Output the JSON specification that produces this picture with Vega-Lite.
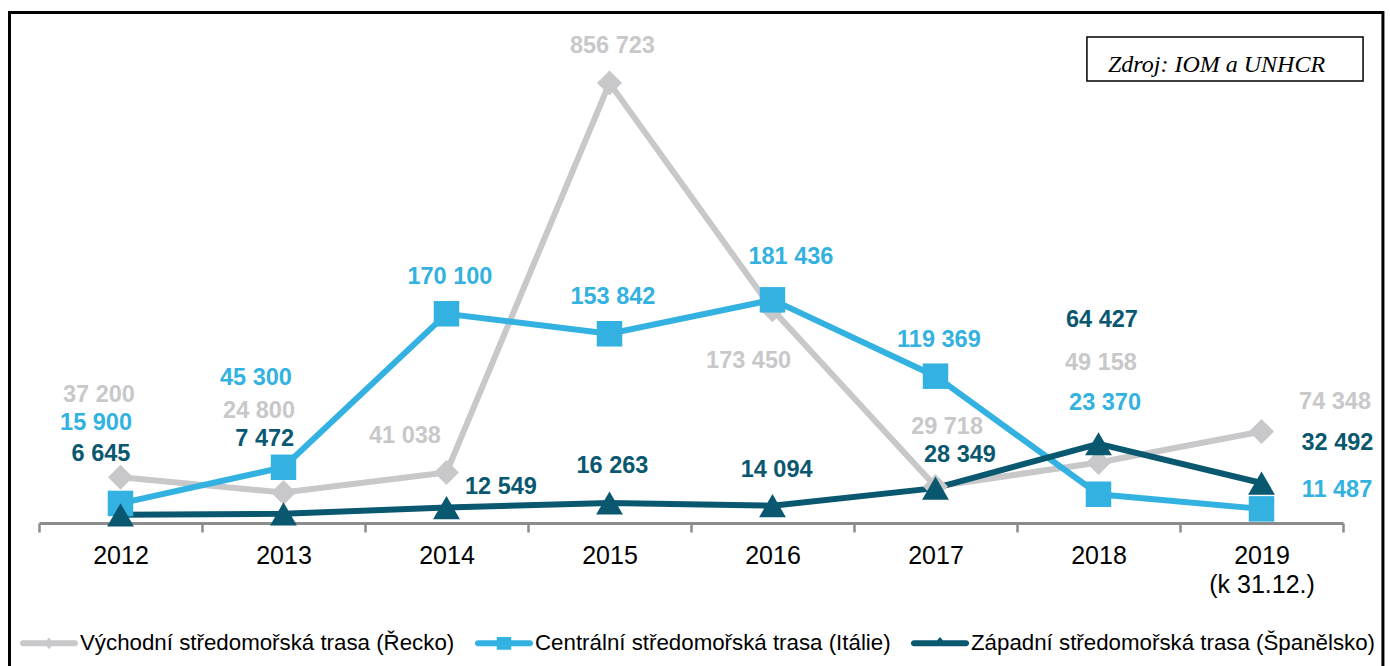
{
  "$schema": "https://vega.github.io/schema/vega-lite/v6.json",
  "width": 1304,
  "height": 492,
  "autosize": {"type": "none"},
  "padding": {"left": 39, "top": 31, "right": 47, "bottom": 143},
  "background": "white",
  "config": {"view": {"stroke": null}, "font": "Liberation Sans"},
  "data": {"values": [
    {"year": 2012, "series": "Východní středomořská trasa (Řecko)", "value": 37200, "label": "37 200", "labelX": 2011.868, "labelY": 104070},
    {"year": 2013, "series": "Východní středomořská trasa (Řecko)", "value": 24800, "label": "24 800", "labelX": 2012.850, "labelY": 91060},
    {"year": 2014, "series": "Východní středomořská trasa (Řecko)", "value": 41038, "label": "41 038", "labelX": 2013.745, "labelY": 70730},
    {"year": 2015, "series": "Východní středomořská trasa (Řecko)", "value": 357700, "label": "856 723", "labelX": 2015.018, "labelY": 387400},
    {"year": 2016, "series": "Východní středomořská trasa (Řecko)", "value": 173450, "label": "173 450", "labelX": 2015.853, "labelY": 131700},
    {"year": 2017, "series": "Východní středomořská trasa (Řecko)", "value": 29718, "label": "29 718", "labelX": 2017.071, "labelY": 78050},
    {"year": 2018, "series": "Východní středomořská trasa (Řecko)", "value": 49158, "label": "49 158", "labelX": 2018.015, "labelY": 130080},
    {"year": 2019, "series": "Východní středomořská trasa (Řecko)", "value": 74348, "label": "74 348", "labelX": 2019.451, "labelY": 98370},
    {"year": 2012, "series": "Centrální středomořská trasa (Itálie)", "value": 15900, "label": "15 900", "labelX": 2011.850, "labelY": 81300},
    {"year": 2013, "series": "Centrální středomořská trasa (Itálie)", "value": 45300, "label": "45 300", "labelX": 2012.831, "labelY": 117890},
    {"year": 2014, "series": "Centrální středomořská trasa (Itálie)", "value": 170100, "label": "170 100", "labelX": 2014.021, "labelY": 200000},
    {"year": 2015, "series": "Centrální středomořská trasa (Itálie)", "value": 153842, "label": "153 842", "labelX": 2015.021, "labelY": 183740},
    {"year": 2016, "series": "Centrální středomořská trasa (Itálie)", "value": 181436, "label": "181 436", "labelX": 2016.113, "labelY": 216260},
    {"year": 2017, "series": "Centrální středomořská trasa (Itálie)", "value": 119369, "label": "119 369", "labelX": 2017.021, "labelY": 148780},
    {"year": 2018, "series": "Centrální středomořská trasa (Itálie)", "value": 23370, "label": "23 370", "labelX": 2018.040, "labelY": 97560},
    {"year": 2019, "series": "Centrální středomořská trasa (Itálie)", "value": 11487, "label": "11 487", "labelX": 2019.463, "labelY": 26830},
    {"year": 2012, "series": "Západní středomořská trasa (Španělsko)", "value": 6645, "label": "6 645", "labelX": 2011.880, "labelY": 56100},
    {"year": 2013, "series": "Západní středomořská trasa (Španělsko)", "value": 7472, "label": "7 472", "labelX": 2012.885, "labelY": 68290},
    {"year": 2014, "series": "Západní středomořská trasa (Španělsko)", "value": 12549, "label": "12 549", "labelX": 2014.334, "labelY": 29270},
    {"year": 2015, "series": "Západní středomořská trasa (Španělsko)", "value": 16263, "label": "16 263", "labelX": 2015.018, "labelY": 46340},
    {"year": 2016, "series": "Západní středomořská trasa (Španělsko)", "value": 14094, "label": "14 094", "labelX": 2016.025, "labelY": 43090},
    {"year": 2017, "series": "Západní středomořská trasa (Španělsko)", "value": 28349, "label": "28 349", "labelX": 2017.150, "labelY": 55280},
    {"year": 2018, "series": "Západní středomořská trasa (Španělsko)", "value": 64427, "label": "64 427", "labelX": 2018.021, "labelY": 165040},
    {"year": 2019, "series": "Západní středomořská trasa (Španělsko)", "value": 32492, "label": "32 492", "labelX": 2019.466, "labelY": 65040}
  ]},
  "resolve": {"axis": {"x": "independent"}, "legend": {"color": "independent", "shape": "independent"}},
  "layer": [
    {
      "mark": {"type": "rect", "fillOpacity": 0, "stroke": "#000000", "strokeWidth": 3},
      "data": {"values": [{}]},
      "encoding": {
        "x": {"datum": 2011.319, "type": "quantitative", "scale": {"domain": [2011.5, 2019.5], "nice": false, "zero": false}, "axis": null},
        "x2": {"datum": 2019.745},
        "y": {"datum": 415036, "type": "quantitative", "scale": {"domain": [0, 400000], "nice": false}, "axis": null},
        "y2": {"datum": -117890}
      }
    },
    {
      "mark": {"type": "rect", "fillOpacity": 0, "stroke": "#000000", "strokeWidth": 1.5},
      "data": {"values": [{}]},
      "encoding": {
        "x": {"datum": 2017.929, "type": "quantitative", "scale": {"domain": [2011.5, 2019.5], "nice": false, "zero": false}, "axis": null},
        "x2": {"datum": 2019.623},
        "y": {"datum": 395120, "type": "quantitative", "scale": {"domain": [0, 400000], "nice": false}, "axis": null},
        "y2": {"datum": 359350}
      }
    },
    {
      "mark": {"type": "text", "font": "Liberation Serif", "fontStyle": "italic", "fontSize": 24, "align": "left", "baseline": "alphabetic", "color": "#000000"},
      "data": {"values": [{"source": "Zdroj: IOM a UNHCR"}]},
      "encoding": {
        "x": {"datum": 2018.058, "type": "quantitative", "scale": {"domain": [2011.5, 2019.5], "nice": false, "zero": false}, "axis": null},
        "y": {"datum": 366660, "type": "quantitative", "scale": {"domain": [0, 400000], "nice": false}, "axis": null},
        "text": {"field": "source"}
      }
    },
    {
      "mark": {"type": "line", "strokeWidth": 6},
      "encoding": {
        "x": {"field": "year", "type": "quantitative", "scale": {"domain": [2011.5, 2019.5], "nice": false, "zero": false},
              "axis": {"orient": "bottom", "values": [2011.5, 2012.5, 2013.5, 2014.5, 2015.5, 2016.5, 2017.5, 2018.5, 2019.5], "labels": false, "grid": false, "title": null,
                       "domainColor": "#8c8c8c", "domainWidth": 3, "tickColor": "#8c8c8c", "tickWidth": 2.5, "tickSize": 9}},
        "y": {"field": "value", "type": "quantitative", "scale": {"domain": [0, 400000], "nice": false}, "axis": null},
        "color": {"field": "series", "type": "nominal", "legend": null,
                  "scale": {"domain": ["Východní středomořská trasa (Řecko)", "Centrální středomořská trasa (Itálie)", "Západní středomořská trasa (Španělsko)"], "range": ["#c8c8ca", "#33b2e1", "#0a5870"]}}
      }
    },
    {
      "transform": [{"filter": "datum.series === 'Východní středomořská trasa (Řecko)'"}],
      "mark": {"type": "point", "shape": "diamond", "filled": true, "size": 625, "opacity": 1},
      "encoding": {
        "x": {"field": "year", "type": "quantitative", "scale": {"domain": [2011.5, 2019.5], "nice": false, "zero": false},
              "axis": {"orient": "bottom", "values": [2012, 2013, 2014, 2015, 2016, 2017, 2018, 2019], "format": "d", "ticks": false, "tickSize": 0, "domain": false, "grid": false, "title": null,
                       "labelFontSize": 25, "labelColor": "#000000", "labelFont": "Liberation Sans", "labelPadding": 20, "labelBaseline": "top", "labelLineHeight": 29,
                       "labelExpr": "datum.value == 2019 ? ['2019', '(k 31.12.)'] : datum.label"}},
        "y": {"field": "value", "type": "quantitative", "scale": {"domain": [0, 400000], "nice": false}, "axis": null},
        "color": {"field": "series", "type": "nominal", "legend": null,
                  "scale": {"domain": ["Východní středomořská trasa (Řecko)", "Centrální středomořská trasa (Itálie)", "Západní středomořská trasa (Španělsko)"], "range": ["#c8c8ca", "#33b2e1", "#0a5870"]}}
      }
    },
    {
      "transform": [{"filter": "datum.series === 'Centrální středomořská trasa (Itálie)'"}],
      "mark": {"type": "point", "shape": "square", "filled": true, "size": 650, "opacity": 1},
      "encoding": {
        "x": {"field": "year", "type": "quantitative", "scale": {"domain": [2011.5, 2019.5], "nice": false, "zero": false}, "axis": null},
        "y": {"field": "value", "type": "quantitative", "scale": {"domain": [0, 400000], "nice": false}, "axis": null},
        "color": {"field": "series", "type": "nominal", "legend": null,
                  "scale": {"domain": ["Východní středomořská trasa (Řecko)", "Centrální středomořská trasa (Itálie)", "Západní středomořská trasa (Španělsko)"], "range": ["#c8c8ca", "#33b2e1", "#0a5870"]}}
      }
    },
    {
      "transform": [{"filter": "datum.series === 'Západní středomořská trasa (Španělsko)'"}],
      "mark": {"type": "point", "shape": "triangle-up", "filled": true, "size": 720, "opacity": 1},
      "encoding": {
        "x": {"field": "year", "type": "quantitative", "scale": {"domain": [2011.5, 2019.5], "nice": false, "zero": false}, "axis": null},
        "y": {"field": "value", "type": "quantitative", "scale": {"domain": [0, 400000], "nice": false}, "axis": null},
        "color": {"field": "series", "type": "nominal", "legend": null,
                  "scale": {"domain": ["Východní středomořská trasa (Řecko)", "Centrální středomořská trasa (Itálie)", "Západní středomořská trasa (Španělsko)"], "range": ["#c8c8ca", "#33b2e1", "#0a5870"]}}
      }
    },
    {
      "mark": {"type": "text", "fontWeight": "bold", "fontSize": 23.5, "font": "Liberation Sans", "align": "center", "baseline": "middle"},
      "encoding": {
        "x": {"field": "labelX", "type": "quantitative", "scale": {"domain": [2011.5, 2019.5], "nice": false, "zero": false}, "axis": null},
        "y": {"field": "labelY", "type": "quantitative", "scale": {"domain": [0, 400000], "nice": false}, "axis": null},
        "text": {"field": "label"},
        "color": {"field": "series", "type": "nominal", "legend": null,
                  "scale": {"domain": ["Východní středomořská trasa (Řecko)", "Centrální středomořská trasa (Itálie)", "Západní středomořská trasa (Španělsko)"], "range": ["#c8c8ca", "#33b2e1", "#0a5870"]}}
      }
    },
    {
      "mark": {"type": "point", "filled": true, "opacity": 0},
      "encoding": {
        "x": {"field": "year", "type": "quantitative", "scale": {"domain": [2011.5, 2019.5], "nice": false, "zero": false}, "axis": null},
        "y": {"field": "value", "type": "quantitative", "scale": {"domain": [0, 400000], "nice": false}, "axis": null},
        "color": {"field": "series", "type": "nominal",
                  "scale": {"domain": ["Východní středomořská trasa (Řecko)", "Centrální středomořská trasa (Itálie)", "Západní středomořská trasa (Španělsko)"], "range": ["#c8c8ca", "#33b2e1", "#0a5870"]},
                  "legend": {"orient": "none", "legendX": -19, "legendY": 583, "direction": "horizontal", "columns": 3, "title": null, "padding": 0,
                             "symbolSize": 3364, "symbolStrokeWidth": 0, "symbolOpacity": 1, "labelFontSize": 22.3, "labelFont": "Liberation Sans", "labelColor": "#000000",
                             "labelOffset": 2, "columnPadding": 19, "labelLimit": 600}},
        "shape": {"field": "series", "type": "nominal",
                  "scale": {"domain": ["Východní středomořská trasa (Řecko)", "Centrální středomořská trasa (Itálie)", "Západní středomořská trasa (Španělsko)"],
                            "range": [
                              "M-0.9,-0.103H0.9A0.103,0.103,0,0,1,0.9,0.103H-0.9A0.103,0.103,0,0,1,-0.9,-0.103ZM0,-0.2L0.16,0L0,0.2L-0.16,0Z",
                              "M-0.9,-0.103H0.9A0.103,0.103,0,0,1,0.9,0.103H-0.9A0.103,0.103,0,0,1,-0.9,-0.103ZM-0.25,-0.22H0.25V0.22H-0.25Z",
                              "M-0.9,-0.103H0.9A0.103,0.103,0,0,1,0.9,0.103H-0.9A0.103,0.103,0,0,1,-0.9,-0.103ZM-0.19,0L0,-0.22L0.19,0Z"]},
                  "legend": {"orient": "none", "legendX": -19, "legendY": 583, "direction": "horizontal", "columns": 3, "title": null, "padding": 0,
                             "symbolSize": 3364, "symbolStrokeWidth": 0, "symbolOpacity": 1, "labelFontSize": 22.3, "labelFont": "Liberation Sans", "labelColor": "#000000",
                             "labelOffset": 2, "columnPadding": 19, "labelLimit": 600}}
      }
    }
  ]
}
